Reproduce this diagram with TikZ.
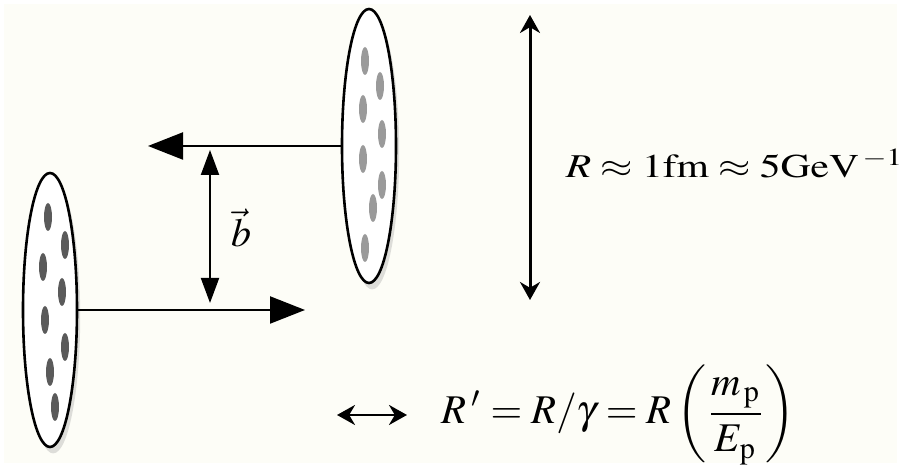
\documentclass[tikz,border=0pt]{standalone}
\usepackage{mathptmx}
\usetikzlibrary{arrows.meta,shapes.geometric,shadows}

\definecolor{paper}{HTML}{FDFDF7}
\definecolor{partonA}{HTML}{5A5A5A}
\definecolor{partonB}{HTML}{9A9A9A}

\newcommand*{\picw}{901}
\newcommand*{\pich}{467}

\begin{document}
\begin{tikzpicture}
[
	x=0.25pt, y=-0.25pt,
	proton/.style={ellipse,draw,line width=0.65pt,fill=white,inner sep=0pt,
		minimum width=13.5pt,minimum height=68.5pt,
		drop shadow={opacity=0.25,shadow xshift=0.8pt,shadow yshift=-1.6pt}},
	beam/.style={line width=0.55pt,-{Triangle[length=8.75pt,width=6.75pt]}},
	impact/.style={line width=0.5pt,{Triangle[length=6.25pt,width=4.5pt]}-{Triangle[length=6.25pt,width=4.5pt]}},
	size/.style={line width=0.75pt,{Stealth[length=4.5pt,width=5pt]}-{Stealth[length=4.5pt,width=5pt]}}
]

	% frame
	\useasboundingbox (0,0) rectangle (\picw,\pich);
	\fill[white] (0,0) rectangle (\picw,\pich);
	\fill[paper] (4,4) rectangle (\picw-4,\pich-4);

	% protons
	\node[proton] (lp) at (50,310) {};
	\node[proton] (rp) at (369,146) {};

	% partons
	\foreach \px/\py in {48/217, 65/245, 43/267, 62/292, 45/320, 65/347, 50/372, 55/407}
		\fill[partonA] (\px,\py) ellipse [x radius=4, y radius=14];
	\foreach \px/\py in {365/61, 380/86, 363/109, 382/134, 363/159, 382/185, 373/208, 365/248}
		\fill[partonB] (\px,\py) ellipse [x radius=4, y radius=14];

	% beams
	\coordinate (ltip) at (305,310);
	\coordinate (rtip) at (148,146);
	\draw[beam] (lp.east) -- (ltip);
	\draw[beam] (rp.west) -- (rtip);

	% impact parameter
	\coordinate (btop) at (210,150);
	\coordinate (bbot) at (210,303);
	\draw[impact] (btop) -- (bbot);
	\node (blabel) at (241,228) {$\vec{b}$};

	% size
	\coordinate (rtop) at (530,15);
	\coordinate (rbot) at (530,300);
	\draw[size] (rtop) -- (rbot);
	\node[anchor=base west,inner sep=0pt,font=\fontsize{10.4}{12}\selectfont] (rlabel) at (565,178)
		{\scalebox{1}[0.8]{$R \approx 1\mathrm{fm} \approx 5\mathrm{GeV}^{\,-1}$}};

	% contracted size
	\coordinate (cl) at (337,415);
	\coordinate (cr) at (407,415);
	\draw[size,line width=0.7pt] (cl) -- (cr);
	\node[anchor=base west,inner sep=0pt,font=\fontsize{10.2}{12}\selectfont] (eqn) at (441,424)
		{$\displaystyle R\,' = R/\gamma = R\left(\frac{m_{\,\mathrm{p}}}{E_{\mathrm{p}}}\right)$};

\end{tikzpicture}
\end{document}
